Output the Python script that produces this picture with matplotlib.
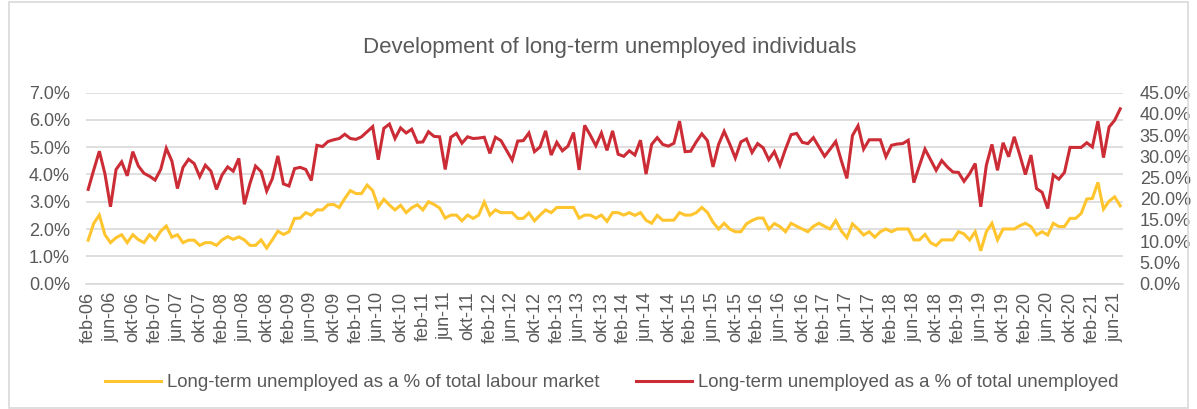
import matplotlib
matplotlib.use('Agg')
import matplotlib.pyplot as plt
from matplotlib.lines import Line2D
from matplotlib.patches import Rectangle
from matplotlib.ticker import FuncFormatter

plt.rcParams['font.family'] = ['Liberation Sans', 'DejaVu Sans']

# monthly data, feb-06 .. jul-21
month_names = ['jan', 'feb', 'mrt', 'apr', 'mei', 'jun',
               'jul', 'aug', 'sep', 'okt', 'nov', 'dec']
start_year = 2006
start_month = 1  # index into month_names (feb)

share_labour_market = [
    1.59, 2.21, 2.51, 1.79, 1.50, 1.68, 1.79, 1.50, 1.79, 1.61,
    1.50, 1.79, 1.60, 1.92, 2.11, 1.70, 1.79, 1.50, 1.59, 1.59,
    1.40, 1.50, 1.50, 1.40, 1.60, 1.72, 1.62, 1.71, 1.60, 1.40,
    1.40, 1.60, 1.30, 1.60, 1.92, 1.80, 1.90, 2.39, 2.40, 2.60,
    2.51, 2.70, 2.70, 2.89, 2.90, 2.79, 3.12, 3.41, 3.30, 3.30,
    3.61, 3.41, 2.80, 3.09, 2.88, 2.70, 2.87, 2.60, 2.78, 2.89,
    2.70, 3.00, 2.90, 2.77, 2.40, 2.51, 2.51, 2.30, 2.51, 2.39,
    2.51, 2.99, 2.51, 2.70, 2.60, 2.60, 2.60, 2.39, 2.39, 2.59,
    2.30, 2.51, 2.70, 2.60, 2.79, 2.79, 2.79, 2.79, 2.40, 2.51,
    2.51, 2.40, 2.51, 2.28, 2.60, 2.60, 2.51, 2.60, 2.50, 2.60,
    2.32, 2.21, 2.50, 2.32, 2.32, 2.33, 2.60, 2.51, 2.51, 2.60,
    2.79, 2.61, 2.25, 2.00, 2.21, 2.00, 1.90, 1.90, 2.19, 2.31,
    2.40, 2.40, 1.99, 2.20, 2.09, 1.90, 2.21, 2.10, 2.00, 1.90,
    2.10, 2.21, 2.10, 2.00, 2.31, 1.93, 1.68, 2.19, 2.00, 1.78,
    1.90, 1.70, 1.90, 2.00, 1.90, 2.00, 2.00, 2.00, 1.60, 1.60,
    1.80, 1.50, 1.39, 1.60, 1.60, 1.60, 1.90, 1.82, 1.60, 1.90,
    1.20, 1.90, 2.21, 1.60, 2.00, 2.00, 2.00, 2.12, 2.21, 2.09,
    1.78, 1.90, 1.78, 2.21, 2.09, 2.09, 2.39, 2.39, 2.57, 3.10,
    3.12, 3.71, 2.73, 3.02, 3.18, 2.85,
]

share_unemployed = [
    22.2, 26.8, 31.2, 25.9, 18.1, 26.9, 28.7, 25.4, 31.1, 27.7,
    26.0, 25.3, 24.4, 26.9, 31.9, 28.9, 22.4, 27.4, 29.3, 28.3,
    25.2, 27.9, 26.5, 22.2, 25.6, 27.5, 26.5, 29.5, 18.7, 23.6,
    27.7, 26.4, 21.8, 24.7, 30.1, 23.5, 23.0, 27.1, 27.4, 26.9,
    24.3, 32.6, 32.3, 33.5, 33.9, 34.2, 35.2, 34.2, 34.0, 34.6,
    35.8, 37.0, 29.2, 36.6, 37.6, 34.2, 36.7, 35.5, 36.4, 33.3,
    33.4, 35.8, 34.7, 34.6, 26.9, 34.5, 35.4, 33.1, 34.6, 34.2,
    34.3, 34.5, 30.7, 34.5, 33.7, 31.4, 29.1, 33.6, 33.7, 35.5,
    31.1, 32.2, 36.0, 30.3, 33.3, 31.3, 32.4, 35.6, 26.8, 37.3,
    35.0, 32.5, 35.5, 31.4, 36.0, 30.5, 30.0, 31.3, 30.3, 33.8,
    25.8, 32.8, 34.4, 32.8, 32.4, 33.1, 38.3, 31.1, 31.2, 33.4,
    35.3, 33.7, 27.5, 32.8, 35.9, 32.9, 29.6, 33.4, 34.1, 30.9,
    33.0, 32.0, 29.2, 31.1, 27.9, 31.7, 35.1, 35.4, 33.3, 33.0,
    34.4, 32.2, 30.0, 31.7, 33.5, 29.0, 24.8, 34.9, 37.2, 31.7,
    33.9, 33.9, 33.9, 29.9, 32.6, 32.9, 33.0, 33.8, 23.8, 27.8,
    31.7, 29.2, 26.7, 29.0, 27.5, 26.3, 26.2, 24.1, 25.9, 28.3,
    18.1, 27.9, 32.8, 26.7, 33.2, 29.9, 34.6, 30.3, 25.7, 30.3,
    22.4, 21.5, 17.7, 25.6, 24.6, 26.2, 32.1, 32.1, 32.1, 33.2,
    32.2, 38.3, 29.7, 36.9, 38.5, 41.2,
]

labels = []
for k in range(len(share_unemployed)):
    m = start_month + k
    labels.append('%s-%02d' % (month_names[m % 12], (start_year + m // 12) % 100))

yellow = '#FFC52F'
red = '#CB2C36'
text_col = '#595959'
grid_col = '#D9D9D9'

fig = plt.figure(figsize=(11.97, 4.09), dpi=100)
ax = fig.add_axes([0.0718, 0.3068, 0.8664, 0.4665])
ax2 = ax.twinx()

x = list(range(len(labels)))
ax.plot(x, share_labour_market, color=yellow, lw=2.2, solid_joinstyle='miter', zorder=3)
ax2.plot(x, share_unemployed, color=red, lw=2.2, solid_joinstyle='miter', zorder=3)

ax.set_xlim(-0.4, len(labels) - 0.5)
ax.set_ylim(0, 7)
ax2.set_ylim(0, 45)
ax.set_yticks([i for i in range(8)])
ax2.set_yticks([5 * i for i in range(10)])
ax.yaxis.set_major_formatter(FuncFormatter(lambda v, p: '%.1f%%' % v))
ax2.yaxis.set_major_formatter(FuncFormatter(lambda v, p: '%.1f%%' % v))

tick_pos = x[::4]
ax.set_xticks(tick_pos)
ax.set_xticklabels([labels[i] for i in tick_pos], rotation=90)

ax.grid(axis='y', color=grid_col, lw=1.2)
ax.set_axisbelow(True)
for a in (ax, ax2):
    for s in a.spines.values():
        s.set_visible(False)
    a.tick_params(length=0, labelsize=13, labelcolor=text_col)
ax.tick_params(axis='y', pad=11.5)
ax2.tick_params(axis='y', pad=12)
ax.tick_params(axis='x', pad=6)
ax.spines['bottom'].set_visible(True)
ax.spines['bottom'].set_color(grid_col)
ax.spines['bottom'].set_linewidth(1.2)

fig.text(0.5096, 0.883, 'Development of long-term unemployed individuals',
         ha='center', va='center', fontsize=16, color=text_col)

handles = [Line2D([], [], color=yellow, lw=2.2),
           Line2D([], [], color=red, lw=2.2)]
fig.legend(handles,
           ['Long-term unemployed as a % of total labour market',
            'Long-term unemployed as a % of total unemployed'],
           loc='center', bbox_to_anchor=(0.511, 0.064), ncol=2, frameon=False,
           fontsize=13.4, labelcolor=text_col, handlelength=3.0,
           handletextpad=0.3, columnspacing=2.0)

fig.patches.append(Rectangle((9 / 1197, 1 / 409), 1179 / 1197, 406 / 409,
                             transform=fig.transFigure, fill=False,
                             edgecolor=grid_col, lw=1.2))

fig.savefig('out.png', dpi=100)
